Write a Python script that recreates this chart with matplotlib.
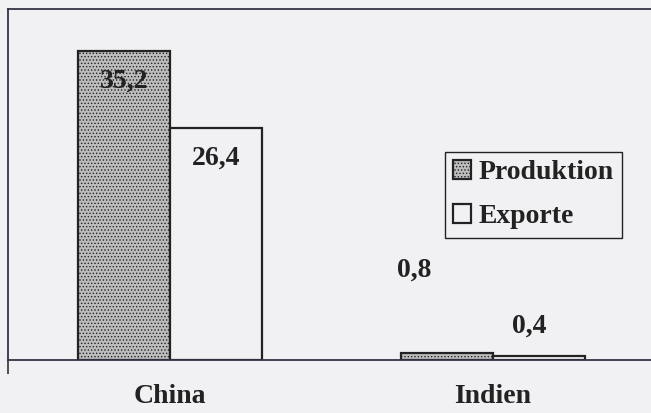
import matplotlib.pyplot as plt
import numpy as np

# Data
categories = ["China", "Indien"]
produktion = [35.2, 0.8]
exporte = [26.4, 0.4]
prod_labels = ["35,2", "0,8"]
exp_labels = ["26,4", "0,4"]

# Label placement (data units)
prod_label_y = [31.8, 10.2]
exp_label_y = [23.0, 3.8]
prod_label_dx = [0.0, -0.1]
exp_label_dx = [0.0, -0.03]

bg = '#f1f1f4'
font = 'Liberation Serif'
fs = 20

plt.rcParams['hatch.color'] = '#8c8c8c'
plt.rcParams['hatch.linewidth'] = 0.6

fig = plt.figure(figsize=(6.51, 4.13), dpi=100, facecolor=bg)
ax = fig.add_axes([8 / 651, 53 / 413, 1 - 8 / 651, (360 - 9) / 413])
ax.set_facecolor(bg)

x = np.arange(len(categories))
w = 0.286
ax.bar(x - w / 2, produktion, w, color='#bdbdbd', edgecolor='#222222',
       linewidth=1.6, label='Produktion', hatch='.....')
ax.bar(x + w / 2, exporte, w, color=bg, edgecolor='#222222',
       linewidth=1.6, label='Exporte')

for i in range(len(categories)):
    ax.text(x[i] - w / 2 + prod_label_dx[i], prod_label_y[i], prod_labels[i],
            ha='center', va='center', fontsize=fs, fontweight='bold',
            family=font, color='#222222')
    ax.text(x[i] + w / 2 + exp_label_dx[i], exp_label_y[i], exp_labels[i],
            ha='center', va='center', fontsize=fs, fontweight='bold',
            family=font, color='#222222')

ax.set_xlim((8 - 170) / 323, (651 - 170) / 323)
ax.set_ylim(0, 40)

ax.set_xticks(x)
ax.set_xticklabels(categories, fontsize=fs, fontweight='bold', family=font,
                   color='#222222')
ax.tick_params(axis='x', length=0, pad=17)
ax.set_xticks([(8 - 170) / 323], minor=True)
ax.tick_params(axis='x', which='minor', length=10, width=1.2,
               color='#333333', direction='out')
ax.set_yticks([])

for s in ['left', 'top', 'bottom']:
    ax.spines[s].set_color('#333344')
    ax.spines[s].set_linewidth(1.3)
ax.spines['right'].set_visible(False)

leg = ax.legend(loc='upper left', bbox_to_anchor=(445 / 651, 1 - 152 / 413),
                bbox_transform=fig.transFigure, fancybox=False,
                edgecolor='#222222', facecolor=bg, framealpha=1,
                prop={'family': font, 'weight': 'bold', 'size': fs},
                handlelength=0.65, handleheight=0.65, handletextpad=0.25,
                labelspacing=0.68, borderpad=0.3, borderaxespad=0)
leg.get_frame().set_linewidth(1.0)
for t in leg.get_texts():
    t.set_color('#222222')

fig.savefig('out.png', dpi=100, facecolor=bg)
